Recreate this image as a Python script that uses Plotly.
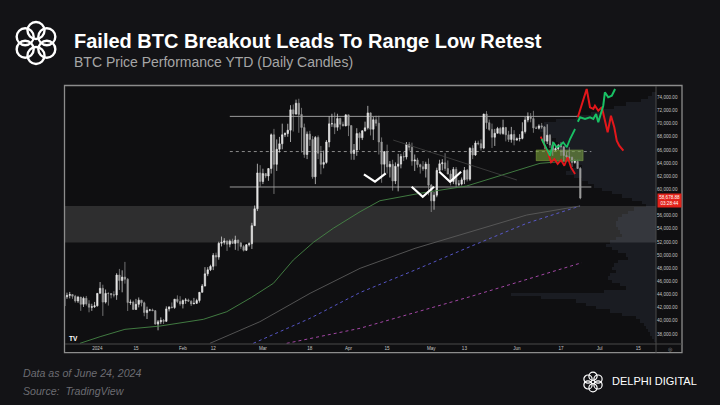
import math
import pandas as pd
import plotly.graph_objects as go

# ---------------- data ----------------
candle_start, candle_end = "2023-12-20", "2024-06-24"
opens = [
    42250, 43660, 43870, 44000, 43740, 43020, 43610, 42520, 43440, 42580, 42070, 42140,
    # Jan
    42280, 44180, 44950, 42850, 44180, 44160, 43960, 43930, 46970, 46120, 46660, 46340, 42780, 42850, 41730, 42510,
    43150, 42740, 41260, 41620, 41670, 41550, 39510, 39850, 40080, 39930, 41820, 42120, 42030, 43300, 42940,
    # Feb
    42580, 43080, 43190, 43000, 42580, 42660, 43090, 44340, 45300, 47150, 47770, 48290, 49960, 49700, 51800,
    51940, 52160, 51660, 52120, 51780, 52280, 51850, 51300, 50730, 51570, 51730, 54480, 57050, 62500,
    # Mar
    61200, 62400, 62030, 63170, 68300, 63800, 66100, 66930, 68300, 68500, 69000, 72100, 71480, 73100, 71400, 69400,
    65300, 68400, 67600, 61900, 67900, 65500, 63800, 64100, 67200, 69960, 69990, 69450, 70780, 69900, 69650,
    # Apr
    71330, 69700, 65450, 65980, 68500, 67840, 68900, 69360, 71630, 69140, 70590, 70060, 67200, 63820, 65740,
    63420, 63810, 61280, 63510, 63840, 64990, 64930, 66840, 66400, 64300, 64480, 63760, 63420, 63110, 63840,
    # May
    60640, 58250, 59120, 62890, 63890, 64030, 63160, 62330, 61190, 63050, 60790, 60800, 61450, 62900, 61550, 66250,
    65230, 67050, 66940, 66280, 71450, 70140, 69120, 67930, 68530, 69260, 68500, 69390, 68300, 67590, 68350,
    # Jun
    67490, 67700, 67750, 68800, 70560, 71080, 70760, 69340, 69300, 69650, 69500, 67330, 68240, 66750, 66010,
    66190, 66640, 66490, 65140, 64960, 64830, 64100, 64250, 63180,
]
highs = [
    44240, 44290, 44400, 44020, 43950, 43800, 43640, 43680, 43790, 43140, 42600, 42880,
    44180, 45900, 45500, 44770, 44340, 44230, 44500, 47250, 47900, 47690, 48970, 46500, 43250, 43080, 43340, 43560,
    43180, 42930, 42160, 41820, 41860, 41650, 40130, 40530, 40280, 42210, 42200, 42800, 43310, 43880, 43750,
    43260, 43480, 43380, 43120, 43490, 43360, 44380, 45600, 48170, 48170, 48540, 50300, 50370, 52040, 52820,
    52570, 52200, 52360, 52490, 52950, 52370, 52000, 51550, 51690, 51950, 54910, 57550, 63900, 63680,
    63140, 62450, 63220, 68500, 69200, 67600, 67980, 69990, 68670, 69980, 72800, 72900, 73650, 73780, 72400, 70000,
    68800, 68900, 68100, 68100, 68200, 66600, 65900, 67500, 71100, 71500, 71700, 71500, 70900, 70300, 71400,
    71350, 69700, 66900, 69300, 68700, 69000, 70300, 72700, 71700, 71000, 71200, 71200, 67900, 65800, 66800,
    64300, 64500, 64100, 65400, 65400, 65700, 67200, 67200, 67100, 65300, 64800, 63900, 64300, 64200, 64700,
    60800, 59600, 63300, 64500, 64600, 65500, 64400, 62900, 63400, 63400, 61400, 61800, 63400, 63100, 66400, 66700,
    67400, 67400, 67600, 71500, 71900, 70600, 70000, 69200, 69500, 69500, 70600, 69500, 68900, 69500, 69000,
    67900, 68400, 70200, 71000, 71700, 71600, 71950, 69600, 69900, 70100, 69600, 69900, 68400, 67300, 66400,
    66900, 67200, 66500, 65700, 66400, 65000, 64500, 64500, 63400,
]
lows = [
    42220, 43340, 43420, 43350, 42760, 42720, 41520, 42110, 42320, 41300, 41520, 41970,
    42190, 44180, 40750, 42630, 42320, 43420, 43570, 43200, 44700, 44340, 45660, 41500, 42440, 41720, 41720, 42050,
    42200, 40700, 40280, 41450, 41500, 39430, 38560, 39500, 39530, 39830, 41430, 41880, 41820, 42700, 42300,
    41890, 42590, 42880, 42260, 42540, 42570, 42780, 44330, 45250, 46800, 47570, 47720, 48300, 49300, 51320,
    51600, 50630, 51190, 51680, 50800, 50660, 50960, 50550, 50620, 51300, 50930, 54440, 56700, 60400,
    60800, 61700, 61300, 62400, 59300, 62800, 65600, 66100, 67950, 68000, 67200, 68800, 71330, 68600, 65600, 64800,
    64600, 66600, 61600, 60800, 64600, 62300, 63200, 63900, 66400, 69500, 68400, 68900, 69100, 69600, 69600,
    68100, 64500, 64500, 65100, 66000, 67500, 68800, 69100, 68200, 67500, 69600, 65300, 61000, 62300, 62400,
    61800, 59800, 60800, 59700, 63200, 64300, 64550, 65900, 63600, 62800, 63300, 62400, 62800, 61800, 59100,
    56550, 56900, 58800, 62600, 62900, 62800, 62300, 60600, 60800, 60200, 60500, 60600, 60800, 61200, 61300, 64600,
    65100, 66700, 65900, 66100, 69200, 68900, 66300, 66600, 68500, 68300, 68300, 67300, 67200, 67100, 66700,
    67400, 67300, 67600, 68500, 70200, 70200, 68600, 69200, 69100, 69200, 66100, 66900, 66300, 65100, 65900,
    66000, 65100, 64100, 64700, 64500, 63400, 63900, 63100, 58500,
]
closes = [
    43660, 43870, 44000, 43740, 43020, 43610, 42520, 43440, 42580, 42070, 42140, 42280,
    44180, 44950, 42850, 44180, 44160, 43960, 43930, 46970, 46120, 46660, 46340, 42780, 42850, 41730, 42510, 43150,
    42740, 41260, 41620, 41670, 41550, 39510, 39850, 40080, 39930, 41820, 42120, 42030, 43300, 42940, 42580,
    43080, 43190, 43000, 42580, 42660, 43090, 44340, 45300, 47150, 47770, 48290, 49960, 49700, 51800, 51940,
    52160, 51660, 52120, 51780, 52280, 51850, 51300, 50730, 51570, 51730, 54480, 57050, 62500, 61200,
    62400, 62030, 63170, 68300, 63800, 66100, 66930, 68300, 68500, 69000, 72100, 71480, 73100, 71400, 69400, 65300,
    68400, 67600, 61900, 67900, 65500, 63800, 64100, 67200, 69960, 69990, 69450, 70780, 69900, 69650, 71330,
    69700, 65450, 65980, 68500, 67840, 68900, 69360, 71630, 69140, 70590, 70060, 67200, 63820, 65740, 63420,
    63810, 61280, 63510, 63840, 64990, 64930, 66840, 66400, 64300, 64480, 63760, 63420, 63110, 63840, 60640,
    58250, 59120, 62890, 63890, 64030, 63160, 62330, 61190, 63050, 60790, 60800, 61450, 62900, 61550, 66250, 65230,
    67050, 66940, 66280, 71450, 70140, 69120, 67930, 68530, 69260, 68500, 69390, 68300, 67590, 68350, 67490,
    67700, 67750, 68800, 70560, 71080, 70760, 69340, 69300, 69650, 69500, 67330, 68240, 66750, 66010, 66190,
    66640, 66490, 65140, 64960, 64830, 64100, 64250, 63180, 58680,
]
last_price_text = "58,678.88"
countdown_text = "03:28:44"

# range levels
range_start = "2024-02-18"
range_top, range_top_end = 71100, "2024-06-23"
range_mid, range_mid_end = 65750, "2024-06-28"
range_low, range_low_end = 60360, "2024-06-28"
zone_low, zone_high = 51900, 57450
box_start, box_end, box_low, box_high = "2024-06-08", "2024-06-25", 64360, 65990

# indicator lines: days since 2024-01-01, price
ma_green_days = [-6.3, 1.0, 10.0, 22.7, 38.4, 46.9, 55.9, 63.8, 71.0, 78.3, 85.5, 95.2, 102.4, 116.9, 133.8, 148.3, 160.4, 175.0]
ma_green_vals = [36580, 37590, 38710, 39210, 40230, 41390, 43580, 45710, 49250, 51950, 54080, 56600, 58270, 59400, 60510, 62440, 63960, 64460]
ma_grey_days = [40.8, 58.9, 77.1, 95.2, 115.1, 135.0, 155.6, 174.9]
ma_grey_vals = [36580, 39870, 44190, 47990, 51030, 53560, 56100, 57470]
ma_blue_days = [56.5, 77.1, 95.2, 115.1, 135.0, 155.6, 174.9]
ma_blue_vals = [36580, 40390, 44310, 47730, 51280, 54840, 57470]
ma_pink_days = [68.6, 95.2, 135.0, 175.5]
ma_pink_vals = [36580, 38870, 43670, 48840]
trend_days = [107.2, 152.0]
trend_vals = [67500, 61420]

# projected paths
red_in_days = [160.65, 162.2, 163.4, 164.4, 165.6, 166.8, 168.0, 169.2, 170.4, 171.6, 173.1]
red_in_vals = [68010, 66640, 65380, 64110, 64620, 63860, 64460, 63600, 64870, 63350, 62330]
green_in_days = [161.0, 162.8, 164.0, 165.2, 166.4, 167.6, 168.8, 170.1, 171.3, 173.1]
green_in_vals = [67660, 66140, 65120, 67160, 66400, 66640, 67160, 66400, 67660, 69180]
red_up_days = [174.1, 177.3, 178.5, 179.7, 180.3, 181.5, 182.8, 184.0, 184.9, 186.1, 187.3, 188.2, 189.1, 190.6]
red_up_vals = [70960, 75260, 72480, 72220, 72720, 71960, 72480, 70440, 68680, 71200, 69440, 67400, 66640, 65880]
green_up_days = [174.1, 174.9, 176.7, 178.5, 179.7, 180.7, 181.5, 183.3, 183.9, 185.1, 186.4, 187.6]
green_up_vals = [70290, 70960, 70700, 70960, 70700, 71460, 70200, 72720, 74760, 74000, 74240, 75260]

# white check marks
checks_days = [[96.6, 100.6, 104.5], [113.9, 117.9, 122.0], [123.9, 127.8, 131.8]]
checks_vals = [[62290, 61160, 62440], [60400, 58880, 60400], [62680, 61160, 62680]]

# volume profile (relative width) by price bin
profile_prices = list(range(74500, 36999, -500))
profile_volume = [4, 8, 15, 30, 42, 52, 65, 80, 100, 112, 116, 116, 110, 104, 100, 98, 96, 94, 90, 88,
                  82, 78, 74, 86, 90, 82, 74, 68, 62, 54, 44, 34, 24, 14, 10, 22, 28, 34, 38, 40,
                  40, 38, 36, 34, 40, 46, 50, 44, 38, 30, 28, 38, 42, 44, 40, 46, 48, 44, 36, 30,
                  52, 145, 115, 80, 70, 60, 46, 34, 20, 16, 12, 10, 8, 6, 4, 2]

time_tick_dates = ["2024-01-01", "2024-01-15", "2024-02-01", "2024-02-12", "2024-03-01", "2024-03-18", "2024-04-01",
                   "2024-04-15", "2024-05-01", "2024-05-13", "2024-06-01", "2024-06-17", "2024-07-01", "2024-07-15"]
time_tick_labels = ["2024", "15", "Feb", "12", "Mar", "18", "Apr", "15", "May", "13", "Jun", "17", "Jul", "15"]
# 58,000 is hidden behind the last-price label in the reference
price_ticks = [38000, 40000, 42000, 44000, 46000, 48000, 50000, 52000, 54000, 56000,
               60000, 62000, 64000, 66000, 68000, 70000, 72000, 74000]

title = "Failed BTC Breakout Leads To Range Low Retest"
subtitle = "BTC Price Performance YTD (Daily Candles)"
footer1 = "Data as of June 24, 2024"
footer2 = "Source:  TradingView"

# ---------------- helpers ----------------
BASE = pd.Timestamp("2024-01-01")


def to_dates(days):
    return [BASE + pd.Timedelta(days=float(v)) for v in days]


W, H = 720, 405
L, R, T, B = 65, 656, 86, 344


def px(x):
    return (x - L) / (R - L)


def py(y):
    return (B - y) / (B - T)


dates = pd.date_range(candle_start, candle_end, freq="D")

fig = go.Figure()

# volume profile (base axis, drawn beneath)
fig.add_trace(go.Bar(
    y=profile_prices, x=profile_volume, orientation="h", xaxis="x", yaxis="y",
    width=500, marker=dict(color="rgba(110,125,165,0.12)", line=dict(width=0)),
    hoverinfo="skip", showlegend=False))


def line(days, vals, color, width=0.9, dash="solid"):
    fig.add_trace(go.Scatter(x=to_dates(days), y=vals, mode="lines", xaxis="x2", yaxis="y",
                             line=dict(color=color, width=width, dash=dash),
                             hoverinfo="skip", showlegend=False))


line(ma_pink_days, ma_pink_vals, "#b24db4", 0.9, "dot")
line(ma_blue_days, ma_blue_vals, "#5c5cd8", 0.9, "dot")
line(ma_grey_days, ma_grey_vals, "#5a5a5a", 0.9)
line(ma_green_days, ma_green_vals, "#468646", 0.9)
line(trend_days, trend_vals, "#444444", 0.8)

fig.add_trace(go.Candlestick(
    x=dates, open=opens, high=highs, low=lows, close=closes, xaxis="x2", yaxis="y",
    increasing=dict(line=dict(color="#e6e6e6", width=0.7), fillcolor="#e6e6e6"),
    decreasing=dict(line=dict(color="#9c9c9c", width=0.7), fillcolor="#9c9c9c"),
    whiskerwidth=0, hoverinfo="skip", showlegend=False))

for dd, vv in zip(checks_days, checks_vals):
    line(dd, vv, "#ffffff", 2.2)

line(red_in_days, red_in_vals, "#e3171b", 1.8)
line(green_in_days, green_in_vals, "#19c064", 1.8)
line(red_up_days, red_up_vals, "#e3171b", 2.0)
line(green_up_days, green_up_vals, "#19c064", 2.0)

# ---------------- shapes ----------------
shapes = []
# chart panel
shapes.append(dict(type="rect", xref="paper", yref="paper", x0=px(64.5), x1=px(682), y0=py(352.7), y1=py(85.5),
                   fillcolor="#0f0f11", line=dict(color="#8c8c8c", width=1.3), layer="below"))
# grey zone
shapes.append(dict(type="rect", xref="paper", yref="y", x0=0, x1=1, y0=zone_low, y1=zone_high,
                   fillcolor="rgba(255,255,255,0.13)", line=dict(width=0), layer="below"))
# separators
shapes.append(dict(type="line", xref="paper", yref="paper", x0=px(65), x1=px(682), y0=0, y1=0,
                   line=dict(color="#4a4a4a", width=1), layer="above"))
shapes.append(dict(type="line", xref="paper", yref="paper", x0=1, x1=1, y0=py(352.7), y1=py(86),
                   line=dict(color="#4a4a4a", width=1), layer="above"))
# range lines
shapes.append(dict(type="line", xref="x2", yref="y", x0=range_start, x1=range_top_end, y0=range_top, y1=range_top,
                   line=dict(color="#9a9a9a", width=1), layer="below"))
shapes.append(dict(type="line", xref="x2", yref="y", x0=range_start, x1=range_mid_end, y0=range_mid, y1=range_mid,
                   line=dict(color="#8a8a8a", width=1, dash="dot"), layer="below"))
shapes.append(dict(type="line", xref="x2", yref="y", x0=range_start, x1=range_low_end, y0=range_low, y1=range_low,
                   line=dict(color="#9a9a9a", width=1), layer="below"))
# green box
shapes.append(dict(type="rect", xref="x2", yref="y", x0=box_start, x1=box_end, y0=box_low, y1=box_high,
                   fillcolor="rgba(120,158,55,0.62)", line=dict(color="rgba(150,190,70,0.7)", width=0.6),
                   layer="below"))


# logos (ring of loops)
def knot(cx, cy, ring, r, w):
    for k in range(6):
        a = math.radians(30 + 60 * k)
        x, y = cx + ring * math.cos(a), cy + ring * math.sin(a)
        shapes.append(dict(type="circle", xref="paper", yref="paper",
                           x0=px(x - r), x1=px(x + r), y0=py(y + r), y1=py(y - r),
                           line=dict(color="#ffffff", width=w), fillcolor="rgba(0,0,0,0)", layer="above"))


knot(36, 43, 12.5, 8.5, 2.4)
knot(593, 382, 5.8, 4.1, 1.2)

# ---------------- annotations ----------------
ann = [
    dict(text="<b>" + title + "</b>", x=px(72), y=py(41), font=dict(size=20, color="#ffffff", family="Liberation Sans")),
    dict(text=subtitle, x=px(72), y=py(62), font=dict(size=14, color="#a6a6a6", family="Liberation Sans")),
    dict(text="<i>" + footer1 + "</i>", x=px(21), y=py(373),
         font=dict(size=10.6, color="#6c6c72", family="Liberation Sans")),
    dict(text="<i>" + footer2 + "</i>", x=px(21), y=py(391),
         font=dict(size=10.6, color="#6c6c72", family="Liberation Sans")),
    dict(text="DELPHI DIGITAL", x=px(610), y=py(381), font=dict(size=11, color="#ffffff", family="Liberation Sans")),
    dict(text="<b>TV</b>", x=px(67), y=py(338.5), font=dict(size=6.5, color="#ffffff", family="Liberation Sans")),
    dict(text="◎", x=px(666), y=py(348.5), font=dict(size=5, color="#8a8a8a", family="DejaVu Sans")),
]
for a in ann:
    a.update(xref="paper", yref="paper", xanchor="left", yanchor="middle", showarrow=False)

ann.append(dict(text=last_price_text + "<br>" + countdown_text, xref="paper", yref="y", x=px(656.5), y=closes[-1],
                xanchor="left", yanchor="middle", yshift=-2, showarrow=False, bgcolor="#e3231b", borderpad=1.2,
                align="center", font=dict(size=4.6, color="#ffffff", family="Liberation Sans")))

fig.update_layout(
    width=W, height=H, margin=dict(l=L, r=W - R, t=T, b=H - B),
    paper_bgcolor="#131316", plot_bgcolor="rgba(0,0,0,0)",
    showlegend=False, shapes=shapes, annotations=ann, bargap=0,
    xaxis=dict(range=[R - L, 0], visible=False, fixedrange=True, rangeslider=dict(visible=False)),
    xaxis2=dict(type="date", overlaying="x", anchor="y", side="bottom",
                range=["2023-12-20 07:00", "2024-07-21 10:00"],
                tickvals=time_tick_dates, ticktext=time_tick_labels, ticks="", showgrid=False,
                zeroline=False, showline=False, rangeslider=dict(visible=False),
                tickfont=dict(size=4.6, color="#c4c4c4", family="Liberation Sans")),
    yaxis=dict(range=[36480, 75720], side="right", tickvals=price_ticks, tickformat=",.2f", ticks="",
               showgrid=False, zeroline=False, showline=False,
               tickfont=dict(size=4.6, color="#c4c4c4", family="Liberation Sans")),
)

fig.write_html("out.html", config={"displayModeBar": False},
               post_script="document.body.style.margin='0px';"
                           "document.body.style.backgroundColor='#131316';")
